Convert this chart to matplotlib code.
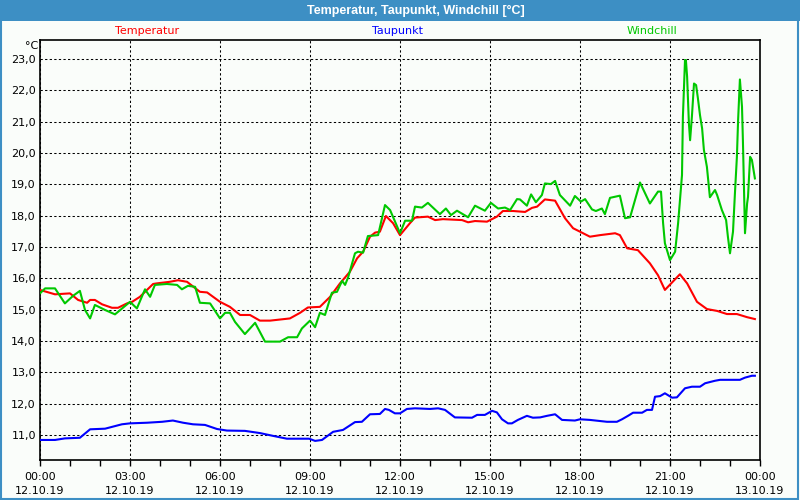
import numpy as np
import pandas as pd
import matplotlib
matplotlib.use("Agg")
import matplotlib.pyplot as plt
from matplotlib.ticker import MultipleLocator, FuncFormatter
from matplotlib.patches import Rectangle

# hours since 12.10.19 00:00 and values in °C
temp_h = [0.0, 0.5, 1.0, 1.27, 1.57, 1.67, 1.83, 2.07, 2.4, 2.6, 2.9, 3.07, 3.33, 3.77, 3.9,
          4.33, 4.6, 4.9, 5.33, 5.57, 6.0, 6.33, 6.67, 7.0, 7.33, 7.67, 8.33, 8.67, 8.93, 9.33,
          9.67, 10.0, 10.33, 10.57, 10.77, 11.0, 11.17, 11.33, 11.53, 11.77, 12.0, 12.33, 12.5,
          12.93, 13.17, 13.43, 14.07, 14.27, 14.5, 14.9, 15.23, 15.43, 15.77, 16.17, 16.4, 16.57,
          16.83, 17.17, 17.5, 17.77, 18.0, 18.33, 18.67, 19.17, 19.33, 19.57, 19.93, 20.33, 20.6,
          20.83, 21.33, 21.57, 21.9, 22.23, 22.57, 22.9, 23.23, 23.57, 23.83]
temp = [15.63, 15.49, 15.52, 15.31, 15.22, 15.31, 15.31, 15.17, 15.06, 15.06, 15.2, 15.25, 15.41,
        15.82, 15.84, 15.89, 15.94, 15.89, 15.57, 15.55, 15.25, 15.09, 14.83, 14.83, 14.65, 14.65,
        14.72, 14.9, 15.07, 15.09, 15.41, 15.84, 16.21, 16.64, 16.85, 17.33, 17.46, 17.49, 17.99,
        17.76, 17.38, 17.76, 17.94, 17.97, 17.86, 17.89, 17.86, 17.79, 17.83, 17.81, 17.97, 18.15,
        18.15, 18.12, 18.25, 18.29, 18.52, 18.48, 17.92, 17.6, 17.49, 17.33, 17.38, 17.44, 17.38,
        16.96, 16.9, 16.48, 16.1, 15.63, 16.13, 15.84, 15.25, 15.02, 14.96, 14.86, 14.86, 14.76,
        14.7]

dew_h = [0.0, 0.5, 0.83, 1.33, 1.67, 2.17, 2.73, 3.0, 3.57, 4.07, 4.43, 4.77, 5.1, 5.5, 5.9,
         6.23, 6.83, 7.33, 7.77, 8.23, 8.97, 9.17, 9.4, 9.77, 10.1, 10.5, 10.73, 11.0, 11.33, 11.5,
         11.63, 11.83, 12.0, 12.23, 12.5, 13.0, 13.27, 13.5, 13.83, 14.4, 14.57, 14.83, 15.07,
         15.23, 15.4, 15.6, 15.73, 15.93, 16.23, 16.43, 16.67, 16.9, 17.17, 17.4, 17.83, 18.0,
         18.33, 18.9, 19.23, 19.4, 19.6, 19.77, 20.07, 20.23, 20.4, 20.5, 20.67, 20.83, 21.07,
         21.23, 21.5, 21.73, 22.0, 22.17, 22.5, 22.67, 23.33, 23.5, 23.73, 23.83]
dew = [10.84, 10.84, 10.89, 10.91, 11.18, 11.2, 11.34, 11.37, 11.39, 11.42, 11.46, 11.39, 11.34,
       11.32, 11.19, 11.14, 11.13, 11.06, 10.97, 10.88, 10.88, 10.81, 10.84, 11.1, 11.16, 11.41,
       11.42, 11.66, 11.67, 11.83, 11.8, 11.69, 11.69, 11.83, 11.85, 11.83, 11.85, 11.8, 11.56,
       11.55, 11.64, 11.64, 11.77, 11.72, 11.5, 11.37, 11.37, 11.48, 11.61, 11.55, 11.56, 11.61,
       11.66, 11.48, 11.46, 11.5, 11.48, 11.42, 11.42, 11.5, 11.61, 11.71, 11.71, 11.8, 11.8,
       12.22, 12.24, 12.33, 12.19, 12.2, 12.49, 12.54, 12.54, 12.65, 12.73, 12.76, 12.76, 12.83,
       12.89, 12.89]

wind_h = [0.0, 0.17, 0.5, 0.83, 1.1, 1.33, 1.5, 1.67, 1.83, 2.17, 2.5, 3.0, 3.23, 3.5, 3.67,
          3.83, 4.23, 4.57, 4.73, 4.93, 5.17, 5.33, 5.67, 6.0, 6.17, 6.33, 6.5, 6.83, 7.17, 7.5,
          8.0, 8.27, 8.57, 8.73, 9.0, 9.17, 9.33, 9.5, 9.73, 9.9, 10.07, 10.17, 10.27, 10.5, 10.6,
          10.77, 10.93, 11.27, 11.5, 11.67, 12.0, 12.17, 12.4, 12.5, 12.73, 12.93, 13.33, 13.53,
          13.7, 13.9, 14.27, 14.5, 14.83, 15.03, 15.27, 15.5, 15.67, 15.9, 16.0, 16.23, 16.37,
          16.53, 16.73, 16.83, 17.03, 17.17, 17.33, 17.67, 17.83, 18.03, 18.17, 18.4, 18.53, 18.73,
          18.83, 19.0, 19.33, 19.5, 19.67, 20.0, 20.33, 20.6, 20.7, 20.77, 20.83, 21.0, 21.17,
          21.27, 21.4, 21.43, 21.5, 21.53, 21.57, 21.63, 21.67, 21.73, 21.8, 21.87, 21.93, 22.0,
          22.07, 22.13, 22.23, 22.33, 22.5, 22.57, 22.73, 22.87, 22.93, 23.0, 23.1, 23.17, 23.23,
          23.27, 23.33, 23.4, 23.43, 23.5, 23.57, 23.6, 23.67, 23.73, 23.83]
wind = [15.52, 15.68, 15.68, 15.2, 15.44, 15.6, 14.99, 14.72, 15.15, 14.99, 14.85, 15.25, 15.04,
        15.65, 15.41, 15.79, 15.82, 15.79, 15.65, 15.76, 15.73, 15.22, 15.2, 14.72, 14.9, 14.9,
        14.61, 14.22, 14.58, 13.98, 13.98, 14.12, 14.12, 14.4, 14.65, 14.44, 14.9, 14.83, 15.54,
        15.57, 15.92, 15.79, 16.03, 16.8, 16.85, 16.82, 17.35, 17.38, 18.34, 18.18, 17.44, 17.84,
        17.84, 18.29, 18.26, 18.41, 18.05, 18.23, 18.02, 18.16, 17.95, 18.32, 18.16, 18.41, 18.23,
        18.26, 18.18, 18.53, 18.52, 18.32, 18.68, 18.43, 18.66, 19.03, 19.01, 19.11, 18.66, 18.32,
        18.63, 18.45, 18.53, 18.2, 18.15, 18.23, 18.05, 18.57, 18.64, 17.92, 17.95, 19.06, 18.39,
        18.77, 18.77, 17.76, 17.12, 16.58, 16.85, 17.76, 19.3, 21.16, 22.97, 22.97, 22.44, 20.95,
        20.41, 21.16, 22.22, 22.17, 21.75, 21.21, 20.79, 20.1, 19.56, 18.59, 18.82, 18.66, 18.18,
        17.86, 17.33, 16.8, 17.49, 18.82, 19.88, 21.05, 22.35, 21.48, 20.41, 17.44, 18.39, 18.6,
        19.88, 19.78, 19.19]

series_names = ["Temperatur", "Taupunkt", "Windchill"]
series_colors = ["#ff0000", "#0000ff", "#00c800"]
start = pd.Timestamp("2019-10-12 00:00")

bg = "#fafdfa"
fig = plt.figure(figsize=(8, 5), dpi=100, facecolor=bg)
ax = fig.add_axes([0.05, 0.08, 0.9, 0.84], facecolor=bg)

ax.plot(temp_h, temp, color=series_colors[0], lw=1.5, zorder=3)
ax.plot(dew_h, dew, color=series_colors[1], lw=1.5, zorder=3)
ax.plot(wind_h, wind, color=series_colors[2], lw=1.5, zorder=4)

ax.set_xlim(0, 24)
ax.set_ylim(10.2, 23.61)

ax.xaxis.set_major_locator(MultipleLocator(3))
ax.xaxis.set_minor_locator(MultipleLocator(1))
ax.yaxis.set_major_locator(MultipleLocator(1))


def xfmt(v, pos):
    t = start + pd.Timedelta(hours=v)
    return t.strftime("%H:%M\n%d.%m.%y")


ax.xaxis.set_major_formatter(FuncFormatter(xfmt))
ax.yaxis.set_major_formatter(FuncFormatter(lambda v, p: f"{v:.1f}".replace(".", ",")))

ax.tick_params(axis="x", which="both", direction="out", length=4, width=1, color="black",
               labelsize=8, pad=5)
ax.tick_params(axis="y", which="both", length=0, labelsize=8, pad=3)
for lab in ax.get_xticklabels():
    lab.set_linespacing(1.5)

ax.grid(which="major", color="black", linestyle=(0, (2.2, 2.2)), linewidth=0.75, zorder=1)
for s in ax.spines.values():
    s.set_color("black")
    s.set_linewidth(1.2)

# title bar and outer frame
fig.patches.append(Rectangle((0, 1 - 21 / 500), 1, 21 / 500, transform=fig.transFigure,
                             facecolor="#3d8fc4", edgecolor="none", zorder=0))
fig.patches.append(Rectangle((0.001, 0.002), 0.997, 0.996, transform=fig.transFigure,
                             facecolor="none", edgecolor="#3d8fc4", lw=1.5, zorder=5))
fig.text(416 / 800, 1 - 10.5 / 500, "Temperatur, Taupunkt, Windchill [°C]", color="white",
         fontsize=9, fontweight="bold", family="Liberation Sans", ha="center", va="center")

# series captions above the plot
for name, col, xp in zip(series_names, series_colors, [147, 398, 652]):
    fig.text(xp / 800, 1 - 31 / 500, name, color=col, fontsize=8, ha="center", va="center")
fig.text(38 / 800, 1 - 46 / 500, "°C", color="black", fontsize=8, ha="right", va="center")

fig.savefig("out.png", dpi=100, facecolor=bg)
